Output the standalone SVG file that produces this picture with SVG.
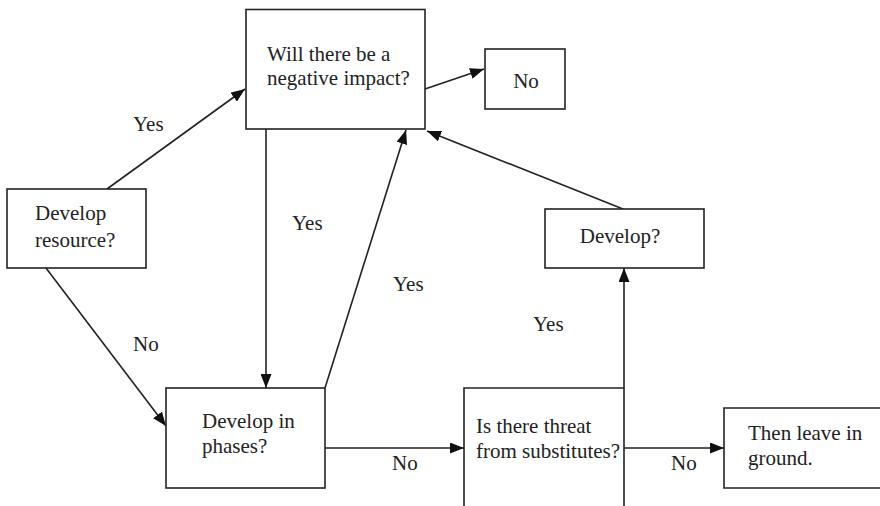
<svg xmlns="http://www.w3.org/2000/svg" width="880" height="506" viewBox="0 0 880 506">
<style>
.box{fill:#fff;stroke:#222;stroke-width:1.6}
.ln{fill:none;stroke:#222;stroke-width:1.6}
.ar{marker-end:url(#ah)}
.t{font-family:'Liberation Serif','DejaVu Serif',serif;font-size:21px;fill:#222}
</style>
<defs>
<marker id="ah" markerUnits="userSpaceOnUse" markerWidth="15" markerHeight="11" refX="14" refY="5.5" orient="auto">
<path d="M0,0 L14,5.5 L0,11 Z" fill="#111"/>
</marker>
</defs>
<g id="connectors">
<line class="ln ar" x1="107" y1="189" x2="245" y2="89"/>
<line class="ln ar" x1="266" y1="129" x2="266" y2="388"/>
<line class="ln ar" x1="325" y1="388" x2="406" y2="130"/>
<line class="ln ar" x1="425" y1="89" x2="484" y2="69"/>
<line class="ln ar" x1="623" y1="209" x2="427" y2="131"/>
<line class="ln ar" x1="46" y1="268" x2="166" y2="426"/>
<line class="ln ar" x1="325" y1="448" x2="464" y2="448"/>
<line class="ln ar" x1="624" y1="388" x2="624" y2="268"/>
<line class="ln ar" x1="624" y1="448" x2="724" y2="448"/>
<text class="t" x="133" y="131">Yes</text>
<text class="t" x="292" y="230">Yes</text>
<text class="t" x="393" y="291">Yes</text>
<text class="t" x="533" y="331">Yes</text>
<text class="t" x="133" y="351">No</text>
<text class="t" x="392" y="470">No</text>
<text class="t" x="671" y="470">No</text>
</g>
<g id="impact">
<rect class="box" x="246" y="9.5" width="179" height="119.5"/>
<text class="t" x="267" y="61">Will there be a</text>
<text class="t" x="267" y="85">negative impact?</text>
</g>
<g id="no">
<rect class="box" x="485" y="49" width="80" height="60"/>
<text class="t" x="526" y="88" text-anchor="middle">No</text>
</g>
<g id="resource">
<rect class="box" x="7" y="189" width="139" height="79"/>
<text class="t" x="35" y="220">Develop</text>
<text class="t" x="35" y="247">resource?</text>
</g>
<g id="develop">
<rect class="box" x="545" y="209" width="159" height="59"/>
<text class="t" x="620" y="243" text-anchor="middle">Develop?</text>
</g>
<g id="phases">
<rect class="box" x="166" y="388" width="159" height="100"/>
<text class="t" x="202" y="428">Develop in</text>
<text class="t" x="202" y="453">phases?</text>
</g>
<g id="threat">
<path class="ln" d="M464,506 V388 H624 V506"/>
<text class="t" x="476" y="433">Is there threat</text>
<text class="t" x="476" y="458">from substitutes?</text>
</g>
<g id="ground">
<path class="ln" d="M881,408 H724 V488 H881"/>
<text class="t" x="748" y="440">Then leave in</text>
<text class="t" x="748" y="465">ground.</text>
</g>
</svg>
